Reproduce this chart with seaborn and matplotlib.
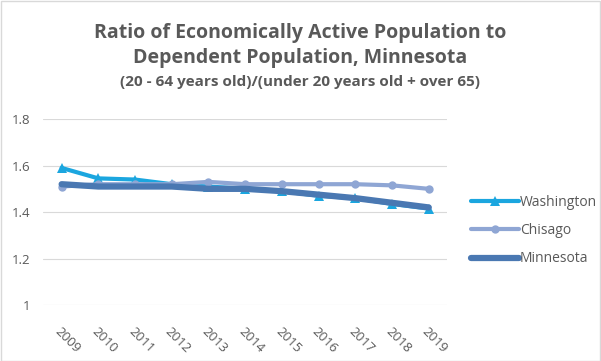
import pandas as pd
import matplotlib.pyplot as plt
import seaborn as sns

years = [str(y) for y in range(2009, 2020)]
washington = [1.59, 1.545, 1.54, 1.52, 1.51, 1.50, 1.49, 1.47, 1.46, 1.435, 1.415]
chisago = [1.51, 1.52, 1.52, 1.52, 1.53, 1.52, 1.52, 1.52, 1.52, 1.515, 1.50]
minnesota = [1.52, 1.51, 1.51, 1.51, 1.50, 1.50, 1.49, 1.475, 1.46, 1.44, 1.42]

sns.set_style("white")
plt.rcParams['font.family'] = ['Open Sans', 'DejaVu Sans']

df = pd.DataFrame({'Year': years, 'Washington': washington,
                   'Chisago': chisago, 'Minnesota': minnesota})

fig = plt.figure(figsize=(6.01, 3.61), dpi=100)
ax = fig.add_axes([0.072, 0.155, 0.672, 0.515])

sns.lineplot(data=df, x='Year', y='Washington', ax=ax, color='#1ba6df', lw=3,
             marker='^', markersize=7, markeredgewidth=0, label='Washington')
sns.lineplot(data=df, x='Year', y='Chisago', ax=ax, color='#8fa6d4', lw=3,
             marker='o', markersize=6, markeredgewidth=0, label='Chisago')
sns.lineplot(data=df, x='Year', y='Minnesota', ax=ax, color='#4a78b2', lw=4.5,
             label='Minnesota')

ax.set_ylim(1, 1.8)
ax.set_yticks([1, 1.2, 1.4, 1.6, 1.8])
ax.set_yticklabels(['1', '1.2', '1.4', '1.6', '1.8'])
ax.set_xlim(-0.5, len(years) - 0.5)
ax.grid(axis='y', color='#d9d9d9', lw=0.8)
ax.grid(axis='x', visible=False)
for s in ax.spines.values():
    s.set_visible(False)
ax.tick_params(axis='y', length=0, labelsize=9.5, colors='#595959', pad=9)
ax.tick_params(axis='x', length=0, labelsize=9.5, colors='#595959', pad=14)
plt.setp(ax.get_xticklabels(), rotation=-45, ha='left', rotation_mode='anchor')
ax.set_xlabel('')
ax.set_ylabel('')

ax.legend(loc='center left', bbox_to_anchor=(1.06, 0.4), frameon=False,
          fontsize=10, labelcolor='#595959', handlelength=3.4, handletextpad=0.1,
          labelspacing=0.95, borderaxespad=0, borderpad=0)

fig.text(0.5, 0.873, 'Ratio of Economically Active Population to\nDependent Population, Minnesota',
         ha='center', va='center', fontsize=14, fontweight='bold', color='#595959',
         linespacing=1.35)
fig.text(0.5, 0.772, '(20 - 64 years old)/(under 20 years old + over 65)',
         ha='center', va='center', fontsize=11, fontweight='bold', color='#595959')

fig.patches.append(plt.Rectangle((0.001, 0.001), 0.997, 0.997, transform=fig.transFigure,
                                 fill=False, edgecolor='#d9d9d9', lw=1))

fig.savefig('out.png', dpi=100)
